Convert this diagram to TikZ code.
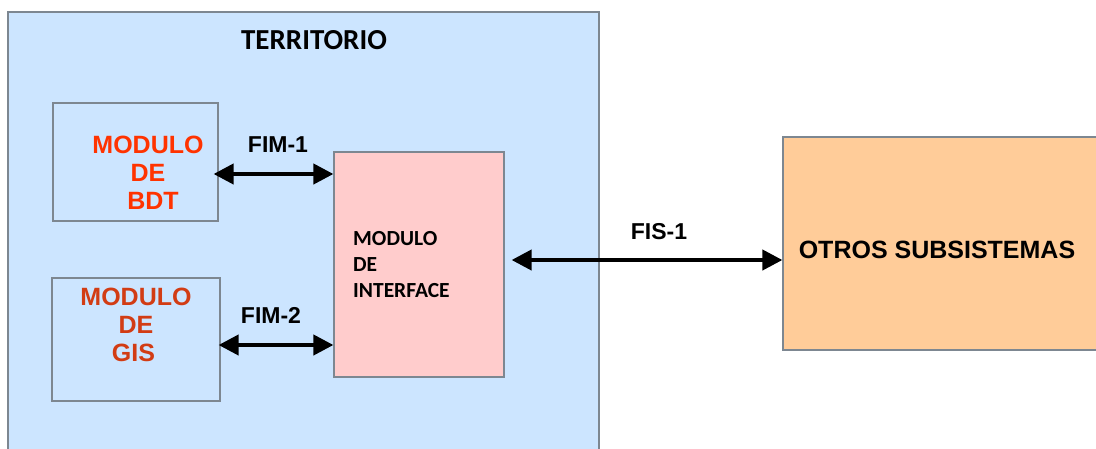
\documentclass[tikz,border=0pt]{standalone}
\usepackage{fontspec}
\setmainfont{Liberation Sans}
\newfontfamily\calib{Carlito}
\usetikzlibrary{arrows.meta,calc}

\definecolor{terrfill}{RGB}{204,229,255}
\definecolor{ifacefill}{RGB}{255,204,204}
\definecolor{otrosfill}{RGB}{255,204,153}
\definecolor{edgegray}{RGB}{125,135,145}
\definecolor{redA}{RGB}{255,51,0}
\definecolor{redB}{RGB}{210,60,20}

\tikzset{
  box/.style={draw=edgegray, line width=1.2pt, inner sep=0pt, anchor=center},
  modtext/.style={font=\fontsize{25}{28}\selectfont\bfseries, align=center, inner sep=0pt},
  ifacetext/.style={font=\calib\fontsize{21.5}{26}\selectfont\bfseries, align=left, inner sep=0pt},
  linklabel/.style={font=\fontsize{23}{26}\selectfont\bfseries, inner sep=0pt},
  biarrow/.style={line width=4pt, {Triangle[length=20pt,width=20pt]}-{Triangle[length=20pt,width=20pt]}}
}

\begin{document}
\begin{tikzpicture}[x=1pt, y=-1pt]
\useasboundingbox (0,0) rectangle (1096,448);
\clip (0,0) rectangle (1096,448);

% subsystem container
\node[box, fill=terrfill, minimum width=591pt, minimum height=448pt] (terr) at (303.5,236) {};
\node[font=\calib\fontsize{29}{32}\selectfont\bfseries, inner sep=0pt] (terrlabel) at (314,40) {TERRITORIO};

% modules
\node[box, fill=terrfill, minimum width=165pt, minimum height=118pt] (bdt) at (135.5,162) {};
\node[modtext, text=redA] (bdttext) at (148,173) {MODULO\\DE\\\hspace*{10pt}BDT};

\node[box, fill=terrfill, minimum width=168pt, minimum height=123pt] (gis) at (136,339.5) {};
\node[modtext, text=redB] (gistext) at (136,325) {MODULO\\DE\\GIS\hspace*{5pt}};

\node[box, fill=ifacefill, minimum width=170pt, minimum height=225pt] (iface) at (419,264.5) {};
\node[ifacetext, anchor=west] (ifacetext) at (353,265) {MODULO\\DE\\INTERFACE};

% external systems
\node[box, fill=otrosfill, minimum width=327pt, minimum height=213pt] (otros) at (946.5,243.5) {};
\node[modtext] (otrostext) at (937,250) {OTROS SUBSISTEMAS};

% interfaces
\path (bdt.east) ++(-5,12) coordinate (fimAstart);
\draw[biarrow] (fimAstart) -- (fimAstart -| iface.west);
\node[linklabel] (fimA) at (278,145) {FIM-1};

\path (gis.east) ++(-2,5.5) coordinate (fimBstart);
\draw[biarrow] (fimBstart) -- (fimBstart -| iface.west);
\node[linklabel] (fimB) at (271,315) {FIM-2};

\path (iface.east) ++(7,-4.5) coordinate (fisstart);
\draw[biarrow] (fisstart) -- (fisstart -| otros.west);
\node[linklabel] (fis) at (659,232) {FIS-1};
\end{tikzpicture}
\end{document}
